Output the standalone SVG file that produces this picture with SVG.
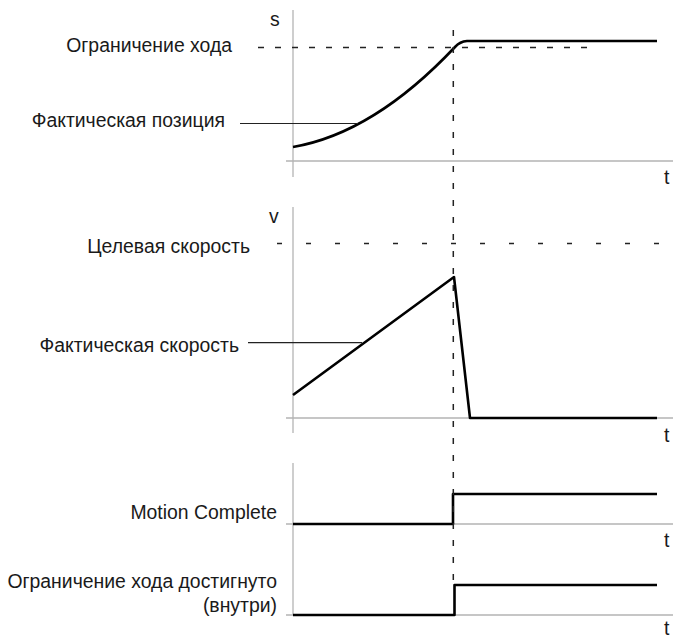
<svg xmlns="http://www.w3.org/2000/svg" width="673" height="639" viewBox="0 0 673 639">
<style>
text{font-family:"Liberation Sans",Arial,sans-serif;font-size:19.4px;fill:#1a1a1a}
.lbl{text-anchor:end}
.axis{stroke:#b4b4b4;stroke-width:1.3;fill:none}
.sig{stroke:#000;stroke-width:2.6;fill:none;stroke-linejoin:round}
.lead{stroke:#222;stroke-width:1.2;fill:none}
.dash{stroke:#222;stroke-width:1.5;fill:none;stroke-dasharray:6 11}
.dash2{stroke:#222;stroke-width:1.5;fill:none;stroke-dasharray:5 24}
</style>
<rect width="673" height="639" fill="#fff"/>
<g id="axes">
<path class="axis" d="M293 10V177M286 161H673"/>
<path class="axis" d="M293 207V433M286 418H673"/>
<path class="axis" d="M293 463V615M286 524H673M286 615H673"/>
<text x="270" y="26">s</text>
<text x="664" y="184">t</text>
<text x="269" y="223">v</text>
<text x="664" y="442">t</text>
<text x="664" y="547">t</text>
<text x="664" y="635">t</text>
</g>
<g id="position">
<path class="dash" d="M258 47.5H597"/>
<path class="sig" d="M293 147Q374 133 455 47Q460 41.5 467 41H657"/>
<text class="lbl" x="232" y="52">Ограничение хода</text>
<text class="lbl" x="225" y="127">Фактическая позиция</text>
</g>
<g id="velocity">
<path class="dash2" d="M277 243.5H660"/>
<path class="sig" d="M293 395L454 277L470 418H657"/>
<text class="lbl" x="250" y="253">Целевая скорость</text>
<text class="lbl" x="239" y="352">Фактическая скорость</text>
</g>
<g id="motion-complete">
<path class="sig" d="M293 524H453V494H657"/>
<text class="lbl" x="277" y="519">Motion Complete</text>
</g>
<g id="limit-reached">
<path class="sig" d="M293 615H454.5V585H657"/>
<text class="lbl" x="277" y="588">Ограничение хода достигнуто</text>
<text class="lbl" x="277" y="612">(внутри)</text>
</g>
<g id="connectors">
<path class="lead" d="M240 123.5H358"/>
<path class="lead" d="M248 342.7H362"/>
<path class="dash" d="M453.3 30V583"/>
</g>
</svg>
